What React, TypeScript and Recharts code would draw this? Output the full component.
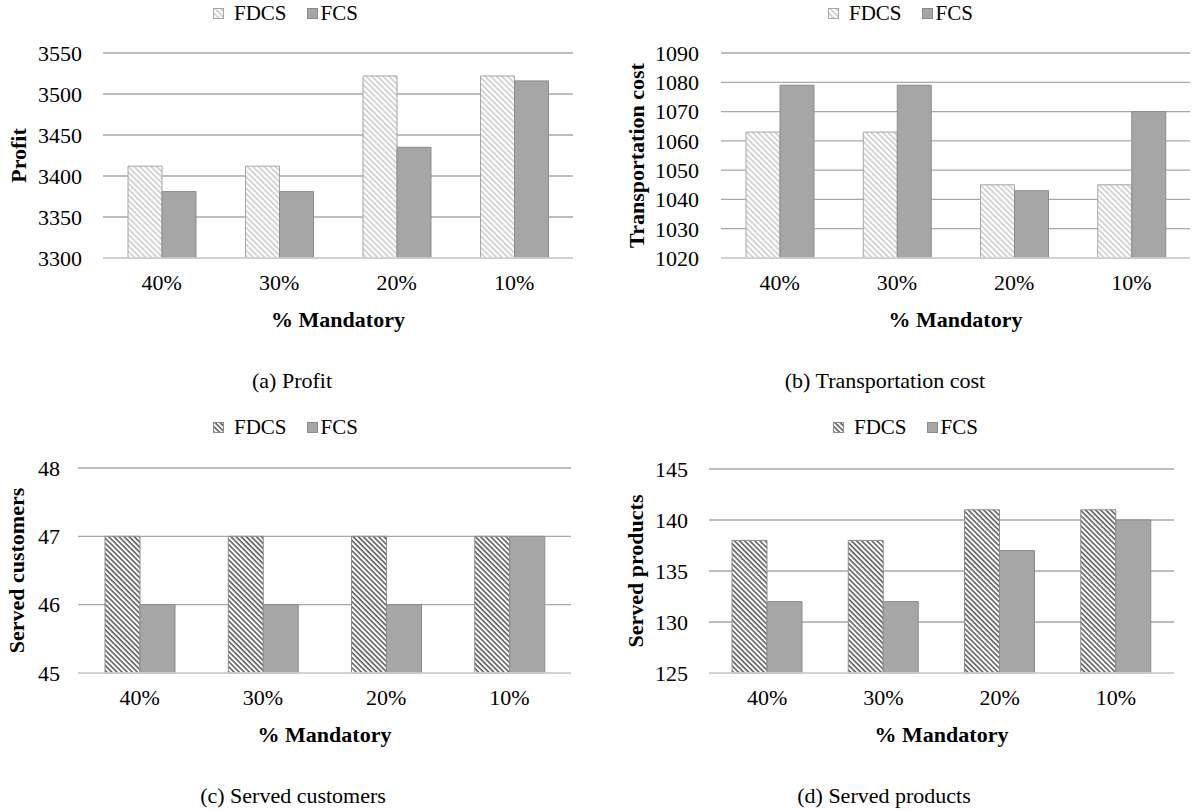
import React from "react"
import { BarChart, Bar, XAxis, YAxis, CartesianGrid } from "recharts"

const categories = ["40%", "30%", "20%", "10%"]

const profitFDCS = [3412, 3412, 3522, 3522]
const profitFCS = [3381, 3381, 3435, 3516]
const profitTicks = [3300, 3350, 3400, 3450, 3500, 3550]

const costFDCS = [1063, 1063, 1045, 1045]
const costFCS = [1079, 1079, 1043, 1070]
const costTicks = [1020, 1030, 1040, 1050, 1060, 1070, 1080, 1090]

const customersFDCS = [47, 47, 47, 47]
const customersFCS = [46, 46, 46, 47]
const customersTicks = [45, 46, 47, 48]

const productsFDCS = [138, 138, 141, 141]
const productsFCS = [132, 132, 137, 140]
const productsTicks = [125, 130, 135, 140, 145]

const FONT = "Liberation Serif, Times New Roman, Times, DejaVu Serif, serif"

const COLORS = {
  fcs: "#a6a6a6",
  fcsStroke: "#8c8c8c",
  grid: "#a9a9a9",
  base: "#d9d9d9",
}

function Hatch({ id, dark }: { id: string; dark: boolean }) {
  const s = dark ? 3.6 : 4
  return (
    <pattern id={id} patternUnits="userSpaceOnUse" width={s} height={s} patternTransform="rotate(-45)">
      <rect width={s} height={s} fill="#fff" />
      <line x1={1} y1={0} x2={1} y2={s} stroke={dark ? "#3a3a3a" : "#b3b3b3"} strokeWidth={dark ? 1.3 : 1.1} />
    </pattern>
  )
}

interface PanelProps {
  id: string
  left: number
  top: number
  height: number
  plotLeft: number
  plotRight: number
  plotTop: number
  plotBottom: number
  yTitleX: number
  tickRight: number
  yTitle: string
  caption: string
  captionX: number
  legendX: number
  fdcs: number[]
  fcs: number[]
  ticks: number[]
  barSize: number
  dark: boolean
}

function LegendBox({ x, y, id, dark }: { x: number; y: number; id: string; dark: boolean }) {
  return (
    <div
      style={{
        position: "absolute",
        left: x,
        top: y,
        display: "flex",
        alignItems: "center",
        fontFamily: FONT,
        fontSize: 21,
        color: "#000",
        lineHeight: "24px",
      }}
    >
      <svg width={11} height={11} style={{ marginRight: 10 }}>
        <defs>
          <Hatch id={id + "-lg"} dark={dark} />
        </defs>
        <rect x={0.5} y={0.5} width={10} height={10} fill={`url(#${id}-lg)`} stroke={dark ? "#8c8c8c" : "#a6a6a6"} />
      </svg>
      <span style={{ marginRight: 20 }}>FDCS</span>
      <svg width={11} height={11} style={{ marginRight: 3 }}>
        <rect x={0.5} y={0.5} width={10} height={10} fill={COLORS.fcs} stroke={COLORS.fcsStroke} />
      </svg>
      <span>FCS</span>
    </div>
  )
}

function Panel(p: PanelProps) {
  const data = categories.map((c, i) => ({ name: c, fdcs: p.fdcs[i], fcs: p.fcs[i] }))
  const width = 596
  const xAxisHeight = 40
  const cy = (p.plotTop + p.plotBottom) / 2
  const cx = (p.plotLeft + p.plotRight) / 2

  const YTitle = () => (
    <text
      x={p.yTitleX}
      y={cy}
      transform={`rotate(-90 ${p.yTitleX} ${cy})`}
      textAnchor="middle"
      dominantBaseline="central"
      style={{ fontFamily: FONT }}
      fontSize={22}
      fontWeight="bold"
      fill="#000"
    >
      {p.yTitle}
    </text>
  )

  const XTitle = () => (
    <g style={{ fontFamily: FONT }}>
      <text x={cx} y={p.plotBottom + 69} textAnchor="middle" fontSize={22} fontWeight="bold" fill="#000">
        % Mandatory
      </text>
      <text x={p.captionX} y={p.plotBottom + 130} textAnchor="middle" fontSize={22} fill="#000">
        {p.caption}
      </text>
    </g>
  )

  return (
    <div style={{ position: "absolute", left: p.left, top: p.top, width, height: p.height, fontFamily: FONT }}>
      <BarChart
        width={width}
        height={p.height}
        data={data}
        barGap={0}
        style={{ fontFamily: FONT }}
        margin={{ top: p.plotTop, right: width - p.plotRight, left: 0, bottom: p.height - p.plotBottom - xAxisHeight }}
      >
        <defs>
          <Hatch id={p.id + "-h"} dark={p.dark} />
        </defs>
        <CartesianGrid vertical={false} stroke={COLORS.grid} strokeWidth={1.3} />
        <XAxis
          dataKey="name"
          height={xAxisHeight}
          tickLine={false}
          tickSize={0}
          tickMargin={16}
          axisLine={{ stroke: COLORS.base, strokeWidth: 1.3 }}
          tick={{ fill: "#000", fontSize: 22, style: { fontFamily: FONT } }}
          label={<XTitle />}
        />
        <YAxis
          width={p.plotLeft}
          domain={[p.ticks[0], p.ticks[p.ticks.length - 1]]}
          ticks={p.ticks}
          interval={0}
          axisLine={false}
          tickLine={false}
          tickSize={0}
          tickMargin={p.plotLeft - p.tickRight}
          tick={{ fill: "#000", fontSize: 22, style: { fontFamily: FONT } }}
          label={<YTitle />}
        />
        <Bar
          dataKey="fdcs"
          fill={`url(#${p.id}-h)`}
          stroke={p.dark ? "#8c8c8c" : "#a6a6a6"}
          strokeWidth={1}
          barSize={p.barSize}
          isAnimationActive={false}
        />
        <Bar
          dataKey="fcs"
          fill={COLORS.fcs}
          stroke={COLORS.fcsStroke}
          strokeWidth={1}
          barSize={p.barSize}
          isAnimationActive={false}
        />
      </BarChart>
      <LegendBox x={p.legendX} y={1} id={p.id} dark={p.dark} />
    </div>
  )
}

export default function App() {
  return (
    <div style={{ position: "absolute", left: 0, top: 0, width: 1192, height: 811, background: "#fff", overflow: "hidden" }}>
      <Panel
        id="a"
        left={0}
        top={0}
        height={400}
        plotLeft={103}
        plotRight={573}
        plotTop={53}
        plotBottom={258}
        yTitleX={18}
        tickRight={82}
        yTitle="Profit"
        caption="(a) Profit"
        captionX={292}
        legendX={213}
        fdcs={profitFDCS}
        fcs={profitFCS}
        ticks={profitTicks}
        barSize={34}
        dark={false}
      />
      <Panel
        id="b"
        left={596}
        top={0}
        height={400}
        plotLeft={125}
        plotRight={594}
        plotTop={53}
        plotBottom={258}
        yTitleX={40}
        tickRight={103}
        yTitle="Transportation cost"
        caption="(b) Transportation cost"
        captionX={289}
        legendX={232}
        fdcs={costFDCS}
        fcs={costFCS}
        ticks={costTicks}
        barSize={34}
        dark={false}
      />
      <Panel
        id="c"
        left={0}
        top={414}
        height={397}
        plotLeft={78}
        plotRight={571}
        plotTop={54}
        plotBottom={259}
        yTitleX={16}
        tickRight={60}
        yTitle="Served customers"
        caption="(c) Served customers"
        captionX={293}
        legendX={213}
        fdcs={customersFDCS}
        fcs={customersFCS}
        ticks={customersTicks}
        barSize={35}
        dark={true}
      />
      <Panel
        id="d"
        left={596}
        top={414}
        height={397}
        plotLeft={113}
        plotRight={578}
        plotTop={55}
        plotBottom={259}
        yTitleX={39}
        tickRight={92}
        yTitle="Served products"
        caption="(d) Served products"
        captionX={288}
        legendX={237}
        fdcs={productsFDCS}
        fcs={productsFCS}
        ticks={productsTicks}
        barSize={35}
        dark={true}
      />
    </div>
  )
}
